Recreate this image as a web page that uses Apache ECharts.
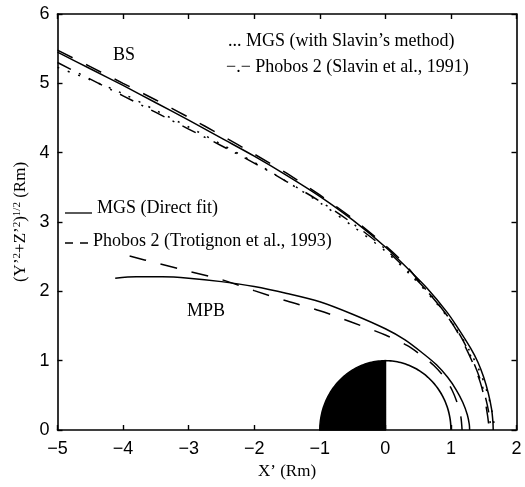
<!DOCTYPE html>
<html>
<head>
<meta charset="utf-8">
<script src="https://cdn.jsdelivr.net/npm/echarts@6/dist/echarts.min.js"></script>
<style>
  html, body { margin: 0; padding: 0; background: #fff; }
  #chart { width: 525px; height: 487px; }
</style>
</head>
<body>
<div id="chart"></div>
<script>
// Bow shock (BS) and magnetic pile-up boundary (MPB) profiles, X' vs (Y'^2+Z'^2)^1/2, in Mars radii
const bsDirectFit = [[-5,5.45],[-4.5,5.21],[-4,4.97],[-3.5,4.72],[-3,4.47],[-2.5,4.21],[-2,3.95],[-1.5,3.67],[-1,3.37],[-0.5,3.03],[0,2.64],[0.36,2.31],[0.64,2.04],[0.94,1.70],[1.10,1.48],[1.30,1.18],[1.41,0.98],[1.50,0.76],[1.57,0.53],[1.62,0.30],[1.64,0.12],[1.645,0]];
const bsTrotignon = [[-5,5.48],[-4.5,5.24],[-4,5.00],[-3.5,4.76],[-3,4.51],[-2.5,4.25],[-2,3.98],[-1.5,3.70],[-1,3.39],[-0.5,3.05],[0,2.66],[0.3,2.39],[0.55,2.10],[0.85,1.76],[1.05,1.49],[1.22,1.20],[1.35,0.93],[1.45,0.68],[1.52,0.42],[1.56,0.20],[1.585,0]];
const bsSlavin = [[-5,5.30],[-4.5,5.06],[-4,4.82],[-3.5,4.58],[-3,4.34],[-2.5,4.10],[-2,3.85],[-1.5,3.58],[-1,3.30],[-0.5,2.98],[0,2.61],[0.4,2.24],[0.7,1.94],[0.95,1.64],[1.15,1.35],[1.32,1.03],[1.45,0.72],[1.54,0.42],[1.59,0.18],[1.605,0]];
const bsSlavinMethod = [[-5,5.23],[-4.5,5.05],[-4,4.85],[-3.5,4.61],[-3,4.37],[-2.5,4.12],[-2,3.86],[-1.5,3.58],[-1,3.28],[-0.5,2.94],[0,2.58],[0.4,2.22],[0.75,1.86],[1.05,1.50],[1.28,1.15],[1.45,0.82],[1.56,0.52],[1.63,0.25],[1.67,0]];
const mpbDirectFit = [[-4.12,2.19],[-3.8,2.21],[-3.4,2.21],[-3,2.19],[-2.5,2.14],[-2,2.07],[-1.5,1.97],[-1,1.85],[-0.5,1.67],[0,1.46],[0.3,1.30],[0.58,1.10],[0.78,0.94],[0.95,0.76],[1.08,0.58],[1.18,0.40],[1.25,0.22],[1.28,0.08],[1.285,0]];
const mpbTrotignon = [[-3.9,2.51],[-3.5,2.41],[-3,2.29],[-2.5,2.17],[-2,2.01],[-1.5,1.86],[-1,1.72],[-0.5,1.55],[0,1.37],[0.33,1.22],[0.56,1.07],[0.74,0.93],[0.9,0.76],[1.02,0.57],[1.10,0.38],[1.15,0.20],[1.17,0]];
// Mars: centre X', centre Y', radius
const mars = [[0, 0, 1]];

const xRange = [-5, 2];
const yRange = [0, 6];

const serif = '"Liberation Serif", "Times New Roman", serif';
const sans = '"Liberation Sans", Arial, sans-serif';
const ink = '#000';

const fmtTick = v => (v < 0 ? '\u2212' + Math.abs(v) : String(v));

function curve(name, data, type) {
  return {
    name, type: 'line', data, showSymbol: false, smooth: 0.3,
    xAxisIndex: 0, yAxisIndex: 0, z: 3,
    lineStyle: { color: ink, width: 1.5, type: type },
    silent: true, animation: false
  };
}

const axisCommon = {
  type: 'value',
  interval: 1,
  axisLine: { show: true, onZero: false, lineStyle: { color: ink, width: 1.6 } },
  axisTick: { show: true, inside: true, length: 5, lineStyle: { color: ink, width: 1.4 } },
  splitLine: { show: false }
};

const chart = echarts.init(document.getElementById('chart'), null, { renderer: 'canvas' });
chart.setOption({
  animation: false,
  backgroundColor: '#fff',
  grid: { left: 57.5, right: 8.5, top: 14, bottom: 57, containLabel: false },
  xAxis: [
    Object.assign({}, axisCommon, {
      min: xRange[0], max: xRange[1], position: 'bottom',
      axisLabel: { color: ink, fontFamily: sans, fontSize: 18, margin: 10, formatter: fmtTick },
      name: 'X\u2019 (Rm)', nameLocation: 'middle', nameGap: 27,
      nameTextStyle: { color: ink, fontFamily: serif, fontSize: 17 }
    }),
    Object.assign({}, axisCommon, {
      min: xRange[0], max: xRange[1], position: 'top',
      axisLabel: { show: false }
    })
  ],
  yAxis: [
    Object.assign({}, axisCommon, {
      min: yRange[0], max: yRange[1], position: 'left',
      axisLabel: { color: ink, fontFamily: sans, fontSize: 18, margin: 8, formatter: fmtTick },
      name: '(Y\u2019{sup|2}+Z\u2019{sup|2}){sup|1/2} (Rm)', nameLocation: 'middle', nameRotate: 90, nameGap: 28,
      nameTextStyle: {
        color: ink, fontFamily: serif, fontSize: 17,
        rich: { sup: { fontFamily: serif, fontSize: 11, verticalAlign: 'top', color: ink } }
      }
    }),
    Object.assign({}, axisCommon, {
      min: yRange[0], max: yRange[1], position: 'right',
      axisLabel: { show: false }
    })
  ],
  series: [
    curve('MGS (Direct fit) BS', bsDirectFit, 'solid'),
    curve('Phobos 2 (Trotignon et al., 1993) BS', bsTrotignon, [17, 15]),
    curve('Phobos 2 (Slavin et al., 1991) BS', bsSlavin, [15, 9, 2, 9]),
    curve('MGS (with Slavin\u2019s method) BS', bsSlavinMethod, [2, 9]),
    curve('MGS (Direct fit) MPB', mpbDirectFit, 'solid'),
    curve('Phobos 2 (Trotignon et al., 1993) MPB', mpbTrotignon, [17, 15]),
    {
      name: 'Mars', type: 'custom', data: mars, z: 4, silent: true, animation: false,
      renderItem(params, api) {
        const cx = api.value(0), cy = api.value(1), r = api.value(2);
        const n = 60;
        const night = [api.coord([cx, cy])];
        const day = [api.coord([cx, cy]), api.coord([cx, cy + r])];
        for (let i = 0; i <= n; i++) {
          const tn = Math.PI / 2 + (i / n) * Math.PI / 2;
          night.push(api.coord([cx + r * Math.cos(tn), cy + r * Math.sin(tn)]));
          const td = Math.PI / 2 - (i / n) * Math.PI / 2;
          day.push(api.coord([cx + r * Math.cos(td), cy + r * Math.sin(td)]));
        }
        return {
          type: 'group',
          children: [
            { type: 'polygon', shape: { points: night }, style: { fill: ink, stroke: ink, lineWidth: 1.5 } },
            { type: 'polyline', shape: { points: day }, style: { fill: null, stroke: ink, lineWidth: 1.6 } }
          ]
        };
      }
    }
  ],
  graphic: [
    { type: 'text', left: 228, top: 32, style: { text: '... MGS (with Slavin\u2019s method)', font: '18px ' + serif, fill: ink } },
    { type: 'text', left: 226, top: 58, style: { text: '\u2212.\u2212 Phobos 2 (Slavin et al., 1991)', font: '18px ' + serif, fill: ink } },
    { type: 'text', left: 113, top: 46, style: { text: 'BS', font: '18px ' + serif, fill: ink } },
    { type: 'line', shape: { x1: 65, y1: 213, x2: 92, y2: 213 }, style: { stroke: ink, lineWidth: 1.3 } },
    { type: 'text', left: 97, top: 199, style: { text: 'MGS (Direct fit)', font: '18px ' + serif, fill: ink } },
    { type: 'line', shape: { x1: 65, y1: 243, x2: 90, y2: 243 }, style: { stroke: ink, lineWidth: 1.3, lineDash: [8, 7] } },
    { type: 'text', left: 93, top: 232, style: { text: 'Phobos 2 (Trotignon et al., 1993)', font: '18px ' + serif, fill: ink } },
    { type: 'text', left: 187, top: 302, style: { text: 'MPB', font: '18px ' + serif, fill: ink } }
  ]
});
</script>
</body>
</html>
